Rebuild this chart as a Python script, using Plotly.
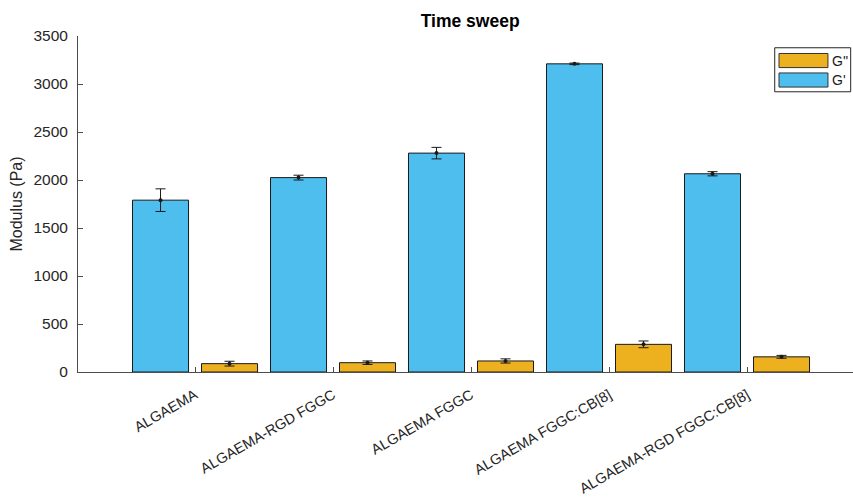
import plotly.graph_objects as go

# Sample names and rheology results (time sweep, mean ± SD)
samples = ["ALGAEMA", "ALGAEMA-RGD FGGC", "ALGAEMA FGGC",
           "ALGAEMA FGGC:CB[8]", "ALGAEMA-RGD FGGC:CB[8]"]
storage = [1790, 2025, 2280, 3210, 2065]        # G' (Pa)
storage_sd = [118, 25, 60, 8, 22]
loss = [87, 97, 115, 288, 158]                  # G'' (Pa)
loss_sd = [25, 18, 22, 35, 15]

series_names = ["G'", "G''"]
series_colors = ["#4DBEEE", "#EDB120"]

idx = list(range(len(samples)))
half_slot = 0.25  # centre offset of each bar within a two-bar group

fig = go.Figure()
for name, vals, color in [(series_names[0], storage, series_colors[0]),
                          (series_names[1], loss, series_colors[1])]:
    fig.add_trace(go.Bar(
        x=idx, y=vals, name=name, marker_color=color,
        marker_line_color="#1a1a1a", marker_line_width=1,
        showlegend=False, hoverinfo="skip"))

# error bars with a small dot at the mean
for sign, vals, sd in [(-1, storage, storage_sd), (1, loss, loss_sd)]:
    fig.add_trace(go.Scatter(
        x=[i + sign * half_slot for i in idx], y=vals, mode="markers",
        marker=dict(color="#1a1a1a", size=4),
        error_y=dict(type="data", array=sd, color="#1a1a1a",
                     thickness=1, width=5),
        showlegend=False, hoverinfo="skip"))

# legend box with wide swatches (G'' listed first)
fig.add_shape(type="rect", xref="paper", yref="paper",
              x0=0.899, x1=0.997, y0=0.834, y1=0.965,
              line=dict(color="#262626", width=1), fillcolor="white")
legend_rows = [  # label, colour, swatch bottom, swatch top
    (series_names[1], series_colors[1], 0.906, 0.948),
    (series_names[0], series_colors[0], 0.848, 0.890),
]
for label, color, y0, y1 in legend_rows:
    fig.add_shape(type="rect", xref="paper", yref="paper",
                  x0=0.9045, x1=0.9677, y0=y0, y1=y1,
                  line=dict(color="#333333", width=1), fillcolor=color)
    fig.add_annotation(xref="paper", yref="paper", x=0.970,
                       y=(y0 + y1) / 2, text=label, showarrow=False,
                       xanchor="left", yanchor="middle",
                       font=dict(size=14, color="#1a1a1a"))

font_family = "Liberation Sans, Arial, sans-serif"

fig.update_layout(
    width=853, height=497,
    margin=dict(l=78, r=0, t=36, b=125),
    paper_bgcolor="white", plot_bgcolor="white",
    barmode="group", bargap=0, bargroupgap=0.188,
    font=dict(family=font_family, color="#262626"),
    title=dict(text="<b>Time sweep</b>", xref="paper", x=0.506,
               xanchor="center", y=0.957, yanchor="middle",
               font=dict(size=17.5, color="#000000")),
    xaxis=dict(range=[-0.848, 4.768], tickvals=idx, ticktext=samples,
               tickangle=-30, ticks="inside", ticklen=5,
               tickcolor="#4d4d4d", showline=True, linecolor="#4d4d4d",
               linewidth=1, showgrid=False, zeroline=False,
               ticklabelstandoff=8, automargin=False,
               tickfont=dict(family=font_family, size=14.5,
                             color="#262626")),
    yaxis=dict(range=[0, 3500], dtick=500, ticks="inside", ticklen=5,
               tickcolor="#4d4d4d", showline=True, linecolor="#4d4d4d",
               linewidth=1, showgrid=False, zeroline=False,
               automargin=False,
               tickfont=dict(family=font_family, size=15.5,
                             color="#262626"),
               ticklabelstandoff=6,
               title=dict(text="Modulus (Pa)", standoff=6,
                          font=dict(size=16, color="#262626"))),
)

fig.write_html("out.html")
